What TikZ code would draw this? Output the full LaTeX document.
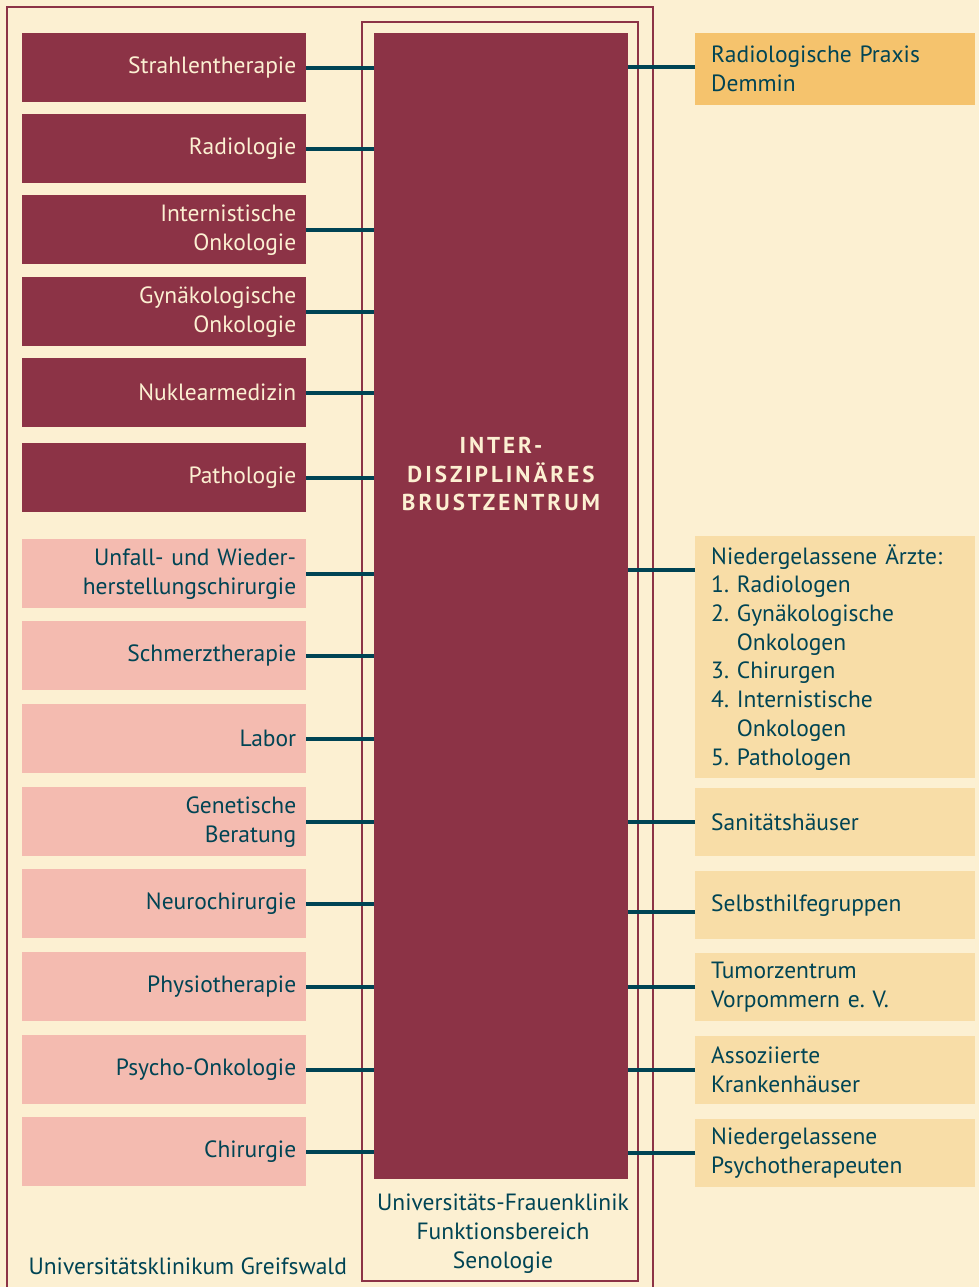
\documentclass[tikz,border=0pt]{standalone}
\usepackage{fontspec}
\setmainfont{PT Sans}
\frenchspacing
\usetikzlibrary{
  calc,
  positioning,
}
\definecolor{creme}{HTML}{FCF0D2}
\definecolor{weinrot}{HTML}{8C3346}
\definecolor{rosa}{HTML}{F4BBB0}
\definecolor{gelb}{HTML}{F5C36D}
\definecolor{gelbhell}{HTML}{F8DDA7}
\definecolor{petrol}{HTML}{004454}
\tikzstyle{box} = [
  rectangle,
  anchor=north west,
  minimum width=284,
  minimum height=69,
  inner xsep=10,
  inner ysep=0,
  text width=264,
  align=right,
  font=\fontsize{23.5}{29}\selectfont,
]
\tikzstyle{intern} = [box, fill=weinrot, text=creme]
\tikzstyle{extern} = [box, fill=rosa, text=petrol]
\tikzstyle{partner} = [box, fill=gelbhell, text=petrol, minimum width=280, text width=248, inner xsep=16, align=left]
\tikzstyle{link} = [line width=4pt, petrol]
\tikzstyle{frame} = [line width=2.5pt, weinrot]

\begin{document}
\begin{tikzpicture}[x=1pt, y=-1pt]

      \fill[creme] (0,0) rectangle (979,1287);
      \useasboundingbox (0,0) rectangle (979,1287);

      % frames
      \draw[frame] (7,1287) -- (7,7) -- (653,7) -- (653,1287);
      \draw[frame] (362,22) rectangle (638,1281);

      \node[rectangle,fill=weinrot,anchor=north west,minimum width=254,minimum height=1146] (zentrum) at (374,33) {};
      \node[text=creme,align=center,font=\bfseries\fontsize{23}{28.5}\selectfont\addfontfeature{LetterSpace=13}] (titel) at (501,474) {INTER-\\DISZIPLINÄRES\\BRUSTZENTRUM};

      % left column
      \node[intern] (strahl)  at (22,33)   {Strahlentherapie};
      \node[intern] (radio)   at (22,114)  {Radiologie};
      \node[intern] (intonko) at (22,195)  {Internistische\\Onkologie};
      \node[intern] (gynonko) at (22,277)  {Gynäkologische\\Onkologie};
      \node[intern] (nuklear) at (22,358)  {Nuklearmedizin};
      \node[intern] (patho)   at (22,443)  {Pathologie};
      \node[extern] (unfall)  at (22,539)  {Unfall- und Wieder-\\herstellungschirurgie};
      \node[extern] (schmerz) at (22,621)  {Schmerztherapie};
      \node[extern] (labor)   at (22,704)  {Labor};
      \node[extern] (genetik) at (22,787)  {Genetische\\Beratung};
      \node[extern] (neuro)   at (22,869)  {Neurochirurgie};
      \node[extern] (physio)  at (22,952)  {Physiotherapie};
      \node[extern] (psyonko) at (22,1035) {Psycho-Onkologie};
      \node[extern] (chir)    at (22,1117) {Chirurgie};

      % right column
      \node[partner,fill=gelb,minimum height=72] (praxis) at (695,33) {Radiologische Praxis\\Demmin};
      \node[partner,minimum height=242,font=\fontsize{23.5}{28.7}\selectfont] (aerzte) at (695,536) {Niedergelassene Ärzte:\\1. Radiologen\\2. Gynäkologische\\\phantom{2. }Onkologen\\3. Chirurgen\\4. Internistische\\\phantom{4. }Onkologen\\5. Pathologen};
      \node[partner,minimum height=68] (sani)   at (695,788)  {Sanitätshäuser};
      \node[partner,minimum height=68] (selbst) at (695,871)  {Selbsthilfegruppen};
      \node[partner,minimum height=68] (tumor)  at (695,953)  {Tumorzentrum\\Vorpommern e. V.};
      \node[partner,minimum height=68] (assoz)  at (695,1036) {Assoziierte\\Krankenhäuser};
      \node[partner,minimum height=68] (psycho) at (695,1119) {Niedergelassene\\Psychotherapeuten};

      \node[anchor=west,text=petrol,font=\fontsize{23.5}{29}\selectfont] (greifswald) at (25,1266) {Universitätsklinikum Greifswald};
      \node[align=center,text=petrol,font=\fontsize{23.5}{29}\selectfont] (frauenklinik) at (503,1234) {Universitäts-Frauenklinik\\Funktionsbereich\\Senologie};

      % connectors left
      \draw[link] (strahl.east)  -- (strahl.east -| zentrum.west);
      \draw[link] (radio.east)   -- (radio.east -| zentrum.west);
      \draw[link] (intonko.east) -- (intonko.east -| zentrum.west);
      \draw[link] (gynonko.east) -- (gynonko.east -| zentrum.west);
      \draw[link] (nuklear.east) -- (nuklear.east -| zentrum.west);
      \draw[link] (patho.east)   -- (patho.east -| zentrum.west);
      \draw[link] (unfall.east)  -- (unfall.east -| zentrum.west);
      \draw[link] (schmerz.east) -- (schmerz.east -| zentrum.west);
      \draw[link] (labor.east)   -- (labor.east -| zentrum.west);
      \draw[link] (genetik.east) -- (genetik.east -| zentrum.west);
      \draw[link] (neuro.east)   -- (neuro.east -| zentrum.west);
      \draw[link] (physio.east)  -- (physio.east -| zentrum.west);
      \draw[link] (psyonko.east) -- (psyonko.east -| zentrum.west);
      \draw[link] (chir.east)    -- (chir.east -| zentrum.west);

      % connectors right
      \coordinate (aerzte-in) at ([yshift=87pt]aerzte.west);
      \coordinate (selbst-in) at ([yshift=-7pt]selbst.west);
      \draw[link] ([yshift=2pt]praxis.west) -- ([yshift=2pt]praxis.west -| zentrum.east);
      \draw[link] (aerzte-in)   -- (aerzte-in -| zentrum.east);
      \draw[link] (sani.west)   -- (sani.west -| zentrum.east);
      \draw[link] (selbst-in)   -- (selbst-in -| zentrum.east);
      \draw[link] (tumor.west)  -- (tumor.west -| zentrum.east);
      \draw[link] (assoz.west)  -- (assoz.west -| zentrum.east);
      \draw[link] (psycho.west) -- (psycho.west -| zentrum.east);

\end{tikzpicture}
\end{document}
